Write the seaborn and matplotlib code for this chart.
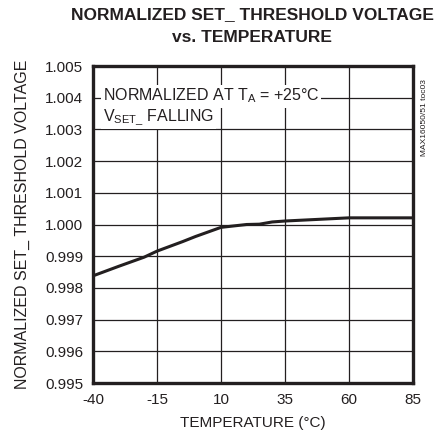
import matplotlib
matplotlib.use("Agg")
import matplotlib.pyplot as plt
import seaborn as sns
import pandas as pd

temperature = [-40, -30, -20, -15, -5, 0, 10, 20, 25, 30, 35, 45, 55, 60, 70, 85]
norm_voltage = [0.99838, 0.99868, 0.99897, 0.99916, 0.99946, 0.99962, 0.99991,
                1.00000, 1.00001, 1.00008, 1.00011, 1.00015, 1.00019, 1.00021,
                1.00021, 1.00021]
x_ticks = [-40, -15, 10, 35, 60, 85]
y_ticks = [0.995, 0.996, 0.997, 0.998, 0.999, 1.000, 1.001, 1.002, 1.003, 1.004, 1.005]

sns.set_theme(style="white")
plt.rcParams["font.family"] = ["Liberation Sans", "DejaVu Sans"]

df = pd.DataFrame({"T": temperature, "V": norm_voltage})

fig = plt.figure(figsize=(4.34, 4.48), dpi=100)
ax = fig.add_axes([93/434, 1-383/448, 320/434, 317/448])
sns.lineplot(data=df, x="T", y="V", ax=ax, color="#231f20", linewidth=2.2)

ax.set_xlim(-40, 85)
ax.set_ylim(0.995, 1.005)
ax.set_xticks(x_ticks)
ax.set_yticks(y_ticks)
ax.set_xticklabels([str(v) for v in x_ticks], fontsize=11)
ax.set_yticklabels([f"{v:.3f}" for v in y_ticks], fontsize=11)
ax.tick_params(axis="both", length=0, pad=7, colors="#231f20")
ax.grid(True, color="#231f20", linewidth=0.9)
for s in ax.spines.values():
    s.set_linewidth(2.4)
    s.set_color("#231f20")
ax.set_xlabel("TEMPERATURE (°C)", fontsize=11, color="#231f20", labelpad=7)
ax.set_ylabel("NORMALIZED SET_ THRESHOLD VOLTAGE", fontsize=11.5, color="#231f20", labelpad=11)

fig.text(252/434, 1-15/448, "NORMALIZED SET_ THRESHOLD VOLTAGE", ha="center", va="center",
         fontsize=12.5, fontweight="bold", color="#231f20")
fig.text(252/434, 1-37/448, "vs. TEMPERATURE", ha="center", va="center",
         fontsize=12.5, fontweight="bold", color="#231f20")

ax.text(0.03, 0.905, r"NORMALIZED AT T$_\mathregular{A}$ = +25°C", transform=ax.transAxes,
        fontsize=11.5, color="#231f20", va="center", ha="left",
        bbox=dict(facecolor="white", edgecolor="none", pad=1.5))
ax.text(0.03, 0.84, r"V$_\mathregular{SET\_}$ FALLING", transform=ax.transAxes,
        fontsize=11.5, color="#231f20", va="center", ha="left",
        bbox=dict(facecolor="white", edgecolor="none", pad=1.5))

fig.text(425/434, 1-118/448, "MAX16050/51 toc03", rotation=90, ha="center", va="center",
         fontsize=6, color="#231f20")

fig.savefig("out.png", dpi=100, facecolor="white")
